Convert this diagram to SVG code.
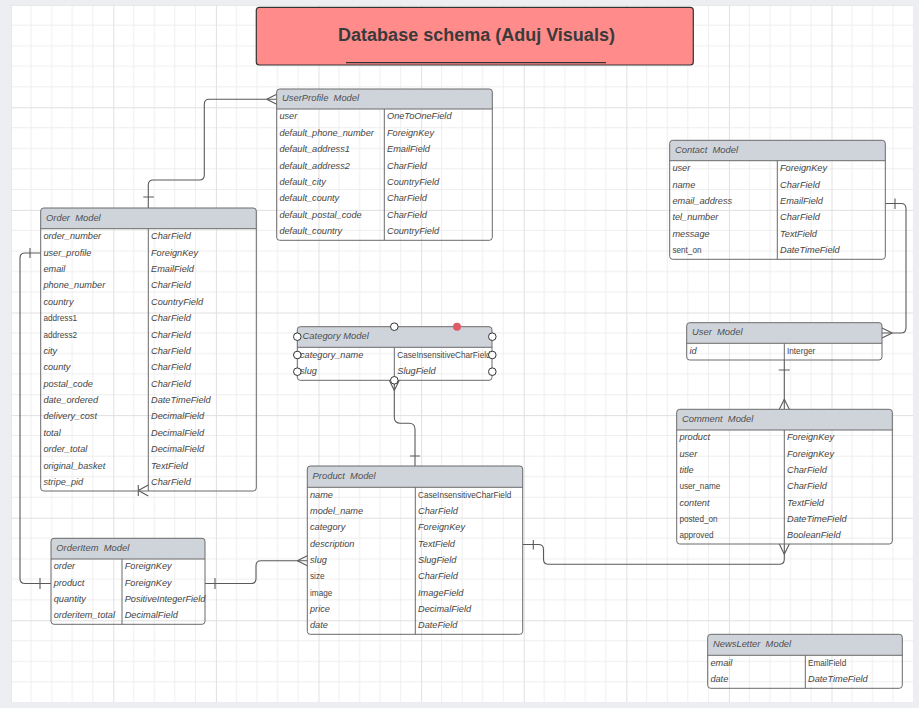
<svg xmlns="http://www.w3.org/2000/svg" width="919" height="708" viewBox="0 0 919 708">
<style>
.tb{fill:none;stroke:#6a6a6a;stroke-width:1}
.hd{fill:#cfd4db}
.ln{stroke:#6a6a6a;stroke-width:1;fill:none}
.t{font-family:"Liberation Sans",Arial,sans-serif;font-size:9.2px;font-style:italic;fill:#454545;transform:translateY(-0.7px)}
.h{font-size:9.4px;fill:#4f4f4f;white-space:pre}
.n{font-style:normal;font-size:8.2px}
.c{stroke:#5a5a5a;stroke-width:1.1;fill:none}
.hdl{fill:#fff;stroke:#333;stroke-width:1}
</style>
<defs>
<pattern id="grid" x="10.7" y="4.7" width="102.6" height="102.6" patternUnits="userSpaceOnUse">
<path d="M20.52,0V102.6M41.04,0V102.6M61.56,0V102.6M82.08,0V102.6M0,20.52H102.6M0,41.04H102.6M0,61.56H102.6M0,82.08H102.6" stroke="#eeeeee" stroke-width="1" fill="none"/>
<path d="M0.5,0V102.6M0,0.5H102.6" stroke="#e0e0e0" stroke-width="1" fill="none"/>
</pattern>
</defs>
<rect x="0" y="0" width="919" height="708" fill="#eceef1"/>
<rect x="11" y="5" width="902" height="697" fill="#fff"/>
<rect x="11" y="5" width="902" height="697" fill="url(#grid)"/>

<g id="title">
<rect x="256.3" y="7.3" width="437" height="57.7" rx="3" fill="#ff8b8b" stroke="#333" stroke-width="1.2"/>
<text x="476.5" y="41" text-anchor="middle" font-family="Liberation Sans,Arial,sans-serif" font-size="18px" font-weight="bold" fill="#3a3a3a">Database schema (Aduj Visuals)</text>
<line x1="346" y1="62.7" x2="606" y2="62.7" stroke="#333" stroke-width="1.2"/>
</g>

<g id="connectors">
<path class="c" d="M148.3,208V185Q148.3,180 153.3,180H199.3Q204.3,180 204.3,175V104.3Q204.3,99.3 209.3,99.3H276.7"/>
<path class="c" d="M143.3,197H154M266.7,99.3L276.7,94.3M266.7,99.3L276.7,104.3"/>
<path class="c" d="M40.7,253H25Q20,253 20,258V578.5Q20,583.5 25,583.5H51"/>
<path class="c" d="M30,248V258M40,578V589"/>
<path class="c" d="M138.3,485V496M138.3,490.5L148.3,485M138.3,490.5L148.3,496"/>
<path class="c" d="M205,583.5H251Q256,583.5 256,578.5V565.8Q256,560.8 261,560.8H307.3"/>
<path class="c" d="M215,578V589M297.3,560.8L307.3,555.8M297.3,560.8L307.3,565.8"/>
<path class="c" d="M394.3,380.3V417.3Q394.3,423.3 400.3,423.3H409Q415,423.3 415,429.3V466"/>
<path class="c" d="M410,456H420M394.3,390.5L389.3,380.3M394.3,390.5L399.3,380.3"/>
<path class="c" d="M885.3,203.5H901Q906,203.5 906,208.5V328Q906,333 901,333H882"/>
<path class="c" d="M895,198.5V209M892.3,333L882,328M892.3,333L882,338"/>
<path class="c" d="M784.3,360V409.3"/>
<path class="c" d="M778.8,370H789.8M784.3,399.3L779.3,409.3M784.3,399.3L789.3,409.3"/>
<path class="c" d="M522.7,544.5H538.5Q543.5,544.5 543.5,549.5V559.3Q543.5,564.3 548.5,564.3H779.3Q784.3,564.3 784.3,559.3V544"/>
<path class="c" d="M533.3,540V549.5M784.3,554.3L779.3,544M784.3,554.3L789.3,544"/>
</g>

<g id="userprofile">
<path class="hd" d="M276.7,109V92Q276.7,89 279.7,89H489.3Q492.3,89 492.3,92V109Z"/>
<path class="ln" d="M276.7,109H492.3M384.3,109V240.3"/>
<rect class="tb" x="276.7" y="89" width="215.6" height="151.3" rx="3"/>
<text class="t h" x="282" y="102">UserProfile  Model</text>
<text class="t" x="279.4" y="120.2">user</text><text class="t" x="387" y="120.2">OneToOneField</text>
<text class="t" x="279.4" y="136.6">default_phone_number</text><text class="t" x="387" y="136.6">ForeignKey</text>
<text class="t" x="279.4" y="153">default_address1</text><text class="t" x="387" y="153">EmailField</text>
<text class="t" x="279.4" y="169.4">default_address2</text><text class="t" x="387" y="169.4">CharField</text>
<text class="t" x="279.4" y="185.8">default_city</text><text class="t" x="387" y="185.8">CountryField</text>
<text class="t" x="279.4" y="202.2">default_county</text><text class="t" x="387" y="202.2">CharField</text>
<text class="t" x="279.4" y="218.6">default_postal_code</text><text class="t" x="387" y="218.6">CharField</text>
<text class="t" x="279.4" y="235">default_country</text><text class="t" x="387" y="235">CountryField</text>
</g>

<g id="order">
<path class="hd" d="M40.7,228.7V211Q40.7,208 43.7,208H253.3Q256.3,208 256.3,211V228.7Z"/>
<path class="ln" d="M40.7,228.7H256.3M148.3,228.7V491"/>
<rect class="tb" x="40.7" y="208" width="215.6" height="283" rx="3"/>
<text class="t h" x="46" y="221.3">Order  Model</text>
<text class="t" x="43.4" y="239.9">order_number</text><text class="t" x="151" y="239.9">CharField</text>
<text class="t" x="43.4" y="256.3">user_profile</text><text class="t" x="151" y="256.3">ForeignKey</text>
<text class="t" x="43.4" y="272.7">email</text><text class="t" x="151" y="272.7">EmailField</text>
<text class="t" x="43.4" y="289.1">phone_number</text><text class="t" x="151" y="289.1">CharField</text>
<text class="t" x="43.4" y="305.5">country</text><text class="t" x="151" y="305.5">CountryField</text>
<text class="t n" x="43.4" y="321.9">address1</text><text class="t" x="151" y="321.9">CharField</text>
<text class="t n" x="43.4" y="338.3">address2</text><text class="t" x="151" y="338.3">CharField</text>
<text class="t" x="43.4" y="354.7">city</text><text class="t" x="151" y="354.7">CharField</text>
<text class="t" x="43.4" y="371">county</text><text class="t" x="151" y="371">CharField</text>
<text class="t" x="43.4" y="387.4">postal_code</text><text class="t" x="151" y="387.4">CharField</text>
<text class="t" x="43.4" y="403.8">date_ordered</text><text class="t" x="151" y="403.8">DateTimeField</text>
<text class="t" x="43.4" y="420.2">delivery_cost</text><text class="t" x="151" y="420.2">DecimalField</text>
<text class="t" x="43.4" y="436.6">total</text><text class="t" x="151" y="436.6">DecimalField</text>
<text class="t" x="43.4" y="453">order_total</text><text class="t" x="151" y="453">DecimalField</text>
<text class="t" x="43.4" y="469.4">original_basket</text><text class="t" x="151" y="469.4">TextField</text>
<text class="t" x="43.4" y="485.8">stripe_pid</text><text class="t" x="151" y="485.8">CharField</text>
</g>

<g id="contact">
<path class="hd" d="M669.7,160.7V143.3Q669.7,140.3 672.7,140.3H882.3Q885.3,140.3 885.3,143.3V160.7Z"/>
<path class="ln" d="M669.7,160.7H885.3M777.3,160.7V259.3"/>
<rect class="tb" x="669.7" y="140.3" width="215.6" height="119" rx="3"/>
<text class="t h" x="675" y="153.5">Contact  Model</text>
<text class="t" x="672.4" y="171.9">user</text><text class="t" x="780" y="171.9">ForeignKey</text>
<text class="t" x="672.4" y="188.4">name</text><text class="t" x="780" y="188.4">CharField</text>
<text class="t" x="672.4" y="204.8">email_address</text><text class="t" x="780" y="204.8">EmailField</text>
<text class="t" x="672.4" y="221.2">tel_number</text><text class="t" x="780" y="221.2">CharField</text>
<text class="t" x="672.4" y="237.6">message</text><text class="t" x="780" y="237.6">TextField</text>
<text class="t n" x="672.4" y="254">sent_on</text><text class="t" x="780" y="254">DateTimeField</text>
</g>

<g id="user">
<path class="hd" d="M686.7,343.3V325.7Q686.7,322.7 689.7,322.7H879Q882,322.7 882,325.7V343.3Z"/>
<path class="ln" d="M686.7,343.3H882M784.3,343.3V360"/>
<rect class="tb" x="686.7" y="322.7" width="195.3" height="37.3" rx="3"/>
<text class="t h" x="692" y="336">User  Model</text>
<text class="t" x="689.4" y="354.7">id</text><text class="t n" x="787" y="354.5">Interger</text>
</g>

<g id="category">
<path class="hd" d="M297.3,347.3V329.7Q297.3,326.7 300.3,326.7H489Q492,326.7 492,329.7V347.3Z"/>
<path class="ln" d="M297.3,347.3H492M394.3,347.3V380.3"/>
<rect class="tb" x="297.3" y="326.7" width="194.7" height="53.6" rx="3"/>
<text class="t h" x="302.6" y="340">Category Model</text>
<text class="t" x="300" y="358.5">category_name</text><text class="t n" x="397.3" y="358.3">CaseInsensitiveCharField</text>
<text class="t" x="300" y="375">slug</text><text class="t" x="397.3" y="375">SlugField</text>
<circle class="hdl" cx="297.3" cy="336.7" r="3.8"/>
<circle class="hdl" cx="297.3" cy="355" r="3.8"/>
<circle class="hdl" cx="297.3" cy="371.7" r="3.8"/>
<circle class="hdl" cx="492.3" cy="336.7" r="3.8"/>
<circle class="hdl" cx="492.3" cy="355" r="3.8"/>
<circle class="hdl" cx="492.3" cy="371.7" r="3.8"/>
<circle class="hdl" cx="394.3" cy="326.7" r="3.8"/>
<circle class="hdl" cx="394.3" cy="380.3" r="3.8"/>
<circle cx="457" cy="326.7" r="4" fill="#e05a66"/>
</g>

<g id="comment">
<path class="hd" d="M676.7,430V412.3Q676.7,409.3 679.7,409.3H889.3Q892.3,409.3 892.3,412.3V430Z"/>
<path class="ln" d="M676.7,430H892.3M784.3,430V544"/>
<rect class="tb" x="676.7" y="409.3" width="215.6" height="134.7" rx="3"/>
<text class="t h" x="682" y="422.6">Comment  Model</text>
<text class="t" x="679.4" y="441.1">product</text><text class="t" x="787" y="441.1">ForeignKey</text>
<text class="t" x="679.4" y="457.4">user</text><text class="t" x="787" y="457.4">ForeignKey</text>
<text class="t" x="679.4" y="473.7">title</text><text class="t" x="787" y="473.7">CharField</text>
<text class="t n" x="679.4" y="490">user_name</text><text class="t" x="787" y="490">CharField</text>
<text class="t" x="679.4" y="506.3">content</text><text class="t" x="787" y="506.3">TextField</text>
<text class="t n" x="679.4" y="522.6">posted_on</text><text class="t" x="787" y="522.6">DateTimeField</text>
<text class="t n" x="679.4" y="538.9">approved</text><text class="t" x="787" y="538.9">BooleanField</text>
</g>

<g id="product">
<path class="hd" d="M307.3,487.3V469Q307.3,466 310.3,466H519.7Q522.7,466 522.7,469V487.3Z"/>
<path class="ln" d="M307.3,487.3H522.7M415.3,487.3V634.3"/>
<rect class="tb" x="307.3" y="466" width="215.4" height="168.3" rx="3"/>
<text class="t h" x="312.6" y="479.6">Product  Model</text>
<text class="t" x="310" y="498.5">name</text><text class="t n" x="418" y="498.3">CaseInsensitiveCharField</text>
<text class="t" x="310" y="514.8">model_name</text><text class="t" x="418" y="514.8">CharField</text>
<text class="t" x="310" y="531.1">category</text><text class="t" x="418" y="531.1">ForeignKey</text>
<text class="t" x="310" y="547.5">description</text><text class="t" x="418" y="547.5">TextField</text>
<text class="t" x="310" y="563.8">slug</text><text class="t" x="418" y="563.8">SlugField</text>
<text class="t n" x="310" y="580">size</text><text class="t" x="418" y="580.1">CharField</text>
<text class="t n" x="310" y="596.4">image</text><text class="t" x="418" y="596.5">ImageField</text>
<text class="t" x="310" y="612.8">price</text><text class="t" x="418" y="612.8">DecimalField</text>
<text class="t" x="310" y="629.1">date</text><text class="t" x="418" y="629.1">DateField</text>
</g>

<g id="orderitem">
<path class="hd" d="M51,559V541.3Q51,538.3 54,538.3H202Q205,538.3 205,541.3V559Z"/>
<path class="ln" d="M51,559H205M122,559V624.3"/>
<rect class="tb" x="51" y="538.3" width="154" height="86" rx="3"/>
<text class="t h" x="56.3" y="551.6">OrderItem  Model</text>
<text class="t" x="53.7" y="570.2">order</text><text class="t" x="124.7" y="570.2">ForeignKey</text>
<text class="t" x="53.7" y="586.5">product</text><text class="t" x="124.7" y="586.5">ForeignKey</text>
<text class="t" x="53.7" y="602.8">quantity</text><text class="t" x="124.7" y="602.8">PositiveIntegerField</text>
<text class="t" x="53.7" y="619.1">orderitem_total</text><text class="t" x="124.7" y="619.1">DecimalField</text>
</g>

<g id="newsletter">
<path class="hd" d="M707.7,655.3V637.3Q707.7,634.3 710.7,634.3H899.3Q902.3,634.3 902.3,637.3V655.3Z"/>
<path class="ln" d="M707.7,655.3H902.3M805.3,655.3V688.3"/>
<rect class="tb" x="707.7" y="634.3" width="194.6" height="54" rx="3"/>
<text class="t h" x="713" y="647.8">NewsLetter  Model</text>
<text class="t" x="710.4" y="666.5">email</text><text class="t n" x="808" y="666.3">EmailField</text>
<text class="t" x="710.4" y="683">date</text><text class="t" x="808" y="683">DateTimeField</text>
</g>
</svg>
